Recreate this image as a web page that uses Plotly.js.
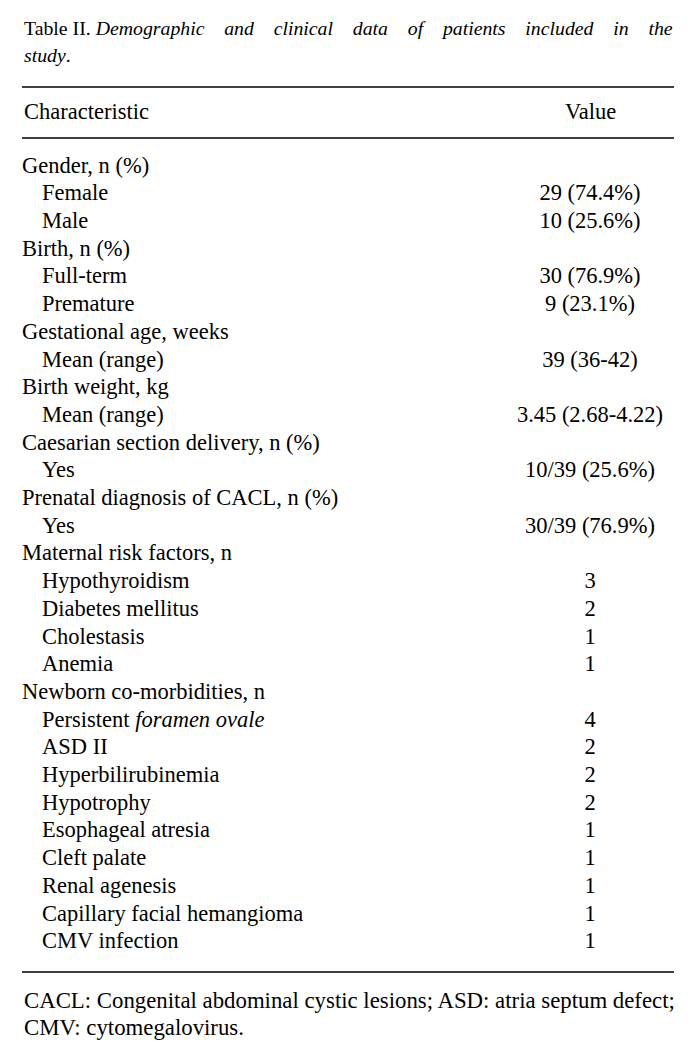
<!DOCTYPE html>
<html><head><meta charset="utf-8">
<script src="https://cdn.plot.ly/plotly-3.0.1.min.js"></script>
<style>html,body{margin:0;padding:0;background:#fff;}</style>
</head><body><div id="chart" style="width:693px;height:1057px;"></div>
<script>
// ---- data ----
const titleLead = 'Table II.';
const titleItalic1 = 'Demographic and clinical data of patients included in the';
const titleItalic2 = 'study';
const headerLabels = ['Characteristic', 'Value'];
const rowLabels = [
  'Gender, n (%)', 'Female', 'Male',
  'Birth, n (%)', 'Full-term', 'Premature',
  'Gestational age, weeks', 'Mean (range)',
  'Birth weight, kg', 'Mean (range)',
  'Caesarian section delivery, n (%)', 'Yes',
  'Prenatal diagnosis of CACL, n (%)', 'Yes',
  'Maternal risk factors, n', 'Hypothyroidism', 'Diabetes mellitus', 'Cholestasis', 'Anemia',
  'Newborn co-morbidities, n', 'Persistent <i>foramen ovale</i>', 'ASD II', 'Hyperbilirubinemia',
  'Hypotrophy', 'Esophageal atresia', 'Cleft palate', 'Renal agenesis',
  'Capillary facial hemangioma', 'CMV infection'
];
const rowLevels = [0,1,1, 0,1,1, 0,1, 0,1, 0,1, 0,1, 0,1,1,1,1, 0,1,1,1,1,1,1,1,1,1];
const rowValues = [
  '', '29 (74.4%)', '10 (25.6%)',
  '', '30 (76.9%)', '9 (23.1%)',
  '', '39 (36-42)',
  '', '3.45 (2.68-4.22)',
  '', '10/39 (25.6%)',
  '', '30/39 (76.9%)',
  '', '3', '2', '1', '1',
  '', '4', '2', '2', '2', '1', '1', '1', '1', '1'
];
const footnoteLines = [
  'CACL: Congenital abdominal cystic lesions; ASD: atria septum defect;',
  'CMV: cytomegalovirus.'
];

// ---- layout constants ----
const W = 693, H = 1057;
const FONT = 'Liberation Serif, Times New Roman, serif';
const INK = '#000000';
const LEFT = 22, RIGHT = 674, INDENT = 20, VALUE_X = 590;
const ROW0 = 167, ROWSTEP = 27.7;
const py = p => 1 - p / H;
const topVal = -ROW0 / ROWSTEP;
const botVal = topVal + H / ROWSTEP;
const rowIdx = rowLabels.map((_, i) => i);

const labelTrace = {
  type: 'scatter', mode: 'text',
  x: rowLevels.map(l => LEFT + l * INDENT), y: rowIdx,
  text: rowLabels, textposition: 'middle right',
  textfont: {family: FONT, size: 22.5, color: INK},
  hoverinfo: 'skip', showlegend: false, cliponaxis: false
};
const valueTrace = {
  type: 'scatter', mode: 'text',
  x: rowValues.map(() => VALUE_X), y: rowIdx,
  text: rowValues, textposition: 'middle center',
  textfont: {family: FONT, size: 22.5, color: INK},
  hoverinfo: 'skip', showlegend: false, cliponaxis: false
};

const gap = '\u00a0'.repeat(4);
const ann = (text, x, p, xanchor, size) => ({
  text, x, y: py(p), xref: 'x', yref: 'paper', xanchor, yanchor: 'middle',
  showarrow: false, font: {family: FONT, size: size, color: INK}
});
const annotations = [
  ann(titleLead + ' <i>' + titleItalic1.split(' ').join(gap) + '</i>', LEFT, 28, 'left', 19.8),
  ann('<i>' + titleItalic2 + '</i>.', LEFT, 55, 'left', 19.8),
  ann(headerLabels[0], LEFT, 112, 'left', 22.5),
  ann(headerLabels[1], VALUE_X, 112, 'center', 22.5),
  ann(footnoteLines[0], LEFT, 1000, 'left', 22.8),
  ann(footnoteLines[1], LEFT, 1027, 'left', 22.8)
];
const rule = p => ({type: 'line', xref: 'x', yref: 'paper', x0: LEFT, x1: RIGHT,
  y0: py(p), y1: py(p), line: {color: INK, width: 1.5}});

const layout = {
  width: W, height: H, margin: {l: 0, r: 0, t: 0, b: 0},
  paper_bgcolor: '#fff', plot_bgcolor: '#fff',
  xaxis: {range: [0, W], visible: false, fixedrange: true},
  yaxis: {range: [botVal, topVal], visible: false, fixedrange: true},
  annotations, shapes: [rule(87), rule(138), rule(972)],
  showlegend: false
};
Plotly.newPlot('chart', [labelTrace, valueTrace], layout, {displayModeBar: false, staticPlot: true});
</script></body></html>
